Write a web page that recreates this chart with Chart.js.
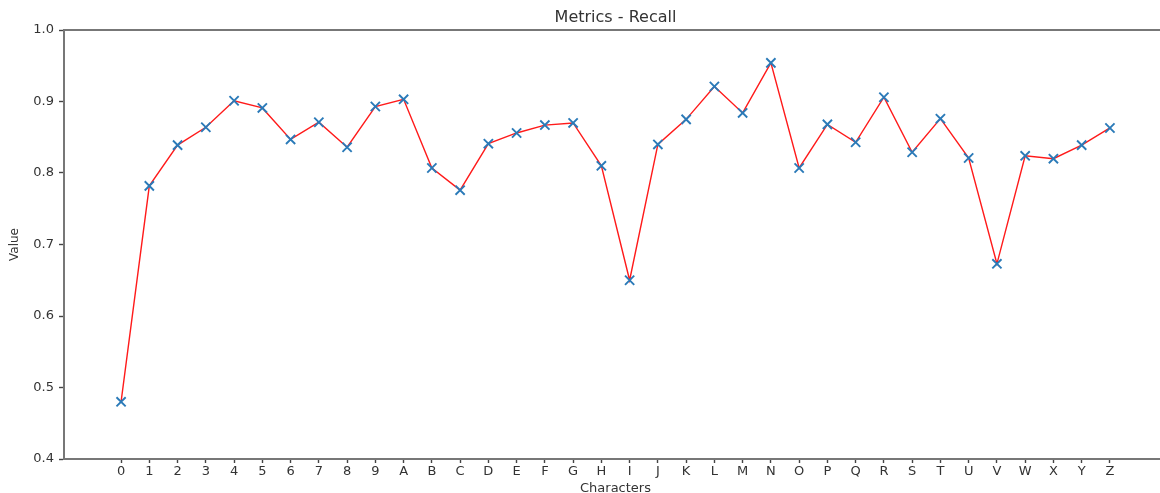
<!DOCTYPE html>
<html>
<head>
<meta charset="utf-8">
<script src="https://cdn.jsdelivr.net/npm/chart.js@4.4.1/dist/chart.umd.min.js"></script>
<style>
    html, body { margin: 0; padding: 0; background: #fff; overflow: hidden; }
    #wrap { width: 1160px; height: 493px; overflow: hidden; }
</style>
</head>
<body>
<div id="wrap">
    <canvas id="recall-chart" width="1180" height="500"></canvas>
</div>
<script>
// Recall per character class
const characters = ['0','1','2','3','4','5','6','7','8','9',
    'A','B','C','D','E','F','G','H','I','J','K','L','M',
    'N','O','P','Q','R','S','T','U','V','W','X','Y','Z'];
const recall = [0.480, 0.782, 0.839, 0.864, 0.901, 0.891, 0.847, 0.871, 0.836, 0.893,
    0.903, 0.807, 0.776, 0.841, 0.856, 0.867, 0.870, 0.810, 0.650, 0.840, 0.875, 0.921, 0.884,
    0.954, 0.807, 0.868, 0.843, 0.906, 0.829, 0.876, 0.821, 0.673, 0.824, 0.820, 0.839, 0.863];
const yTicks = [0.4, 0.5, 0.6, 0.7, 0.8, 0.9, 1.0];

const textColor = '#333';
const spineColor = '#777';
const font = { family: 'DejaVu Sans', size: 13 };

const points = characters.map((c, i) => ({ x: i, y: recall[i] }));

const ctx = document.getElementById('recall-chart').getContext('2d');
new Chart(ctx, {
    type: 'line',
    data: {
        datasets: [{
            label: 'Recall',
            data: points,
            borderColor: '#ff1a1a',
            borderWidth: 1.4,
            tension: 0,
            fill: false,
            pointStyle: 'crossRot',
            pointRadius: 6.5,
            pointBorderColor: '#2a7ab8',
            pointBorderWidth: 1.9,
            pointBackgroundColor: '#2a7ab8'
        }]
    },
    options: {
        responsive: false,
        animation: false,
        devicePixelRatio: 1,
        layout: { padding: { left: 0, right: 13, top: 0, bottom: 0 } },
        plugins: {
            legend: { display: false },
            tooltip: { enabled: false },
            title: { display: false }
        },
        scales: {
            x: {
                type: 'linear',
                position: 'bottom',
                min: -2.02,
                max: 37.02,
                afterBuildTicks: scale => {
                    scale.ticks = characters.map((c, i) => ({ value: i }));
                },
                afterFit: scale => { scale.height = 41; },
                ticks: {
                    autoSkip: false,
                    maxRotation: 0,
                    padding: 1,
                    color: textColor,
                    font: font,
                    callback: value => characters[value]
                },
                grid: {
                    drawOnChartArea: false,
                    drawTicks: true,
                    tickLength: 4,
                    tickColor: '#444',
                    tickWidth: 1.4
                },
                border: { display: true, color: spineColor, width: 2 },
                title: {
                    display: true,
                    text: 'Characters',
                    color: textColor,
                    font: font,
                    padding: { top: 0, bottom: 4 }
                }
            },
            top: {
                type: 'linear',
                position: 'top',
                min: -2.02,
                max: 37.02,
                afterFit: scale => { scale.height = 30; },
                ticks: { display: false },
                grid: { drawOnChartArea: false, drawTicks: false },
                border: { display: true, color: spineColor, width: 2 },
                title: {
                    display: true,
                    text: 'Metrics - Recall',
                    color: textColor,
                    font: { family: 'DejaVu Sans', size: 16 },
                    padding: { top: 8, bottom: 0 }
                }
            },
            y: {
                type: 'linear',
                position: 'left',
                min: 0.4,
                max: 1.0,
                afterBuildTicks: scale => {
                    scale.ticks = yTicks.map(v => ({ value: v }));
                },
                afterFit: scale => { scale.width = 64; },
                ticks: {
                    padding: 5,
                    color: textColor,
                    font: font,
                    callback: value => value.toFixed(1)
                },
                grid: {
                    drawOnChartArea: false,
                    drawTicks: true,
                    tickLength: 5,
                    tickColor: '#444',
                    tickWidth: 1.4
                },
                border: { display: true, color: spineColor, width: 2 },
                title: {
                    display: true,
                    text: 'Value',
                    color: textColor,
                    font: { family: 'DejaVu Sans', size: 12 },
                    padding: { top: 8, bottom: 0 }
                }
            }
        }
    }
});
</script>
</body>
</html>
